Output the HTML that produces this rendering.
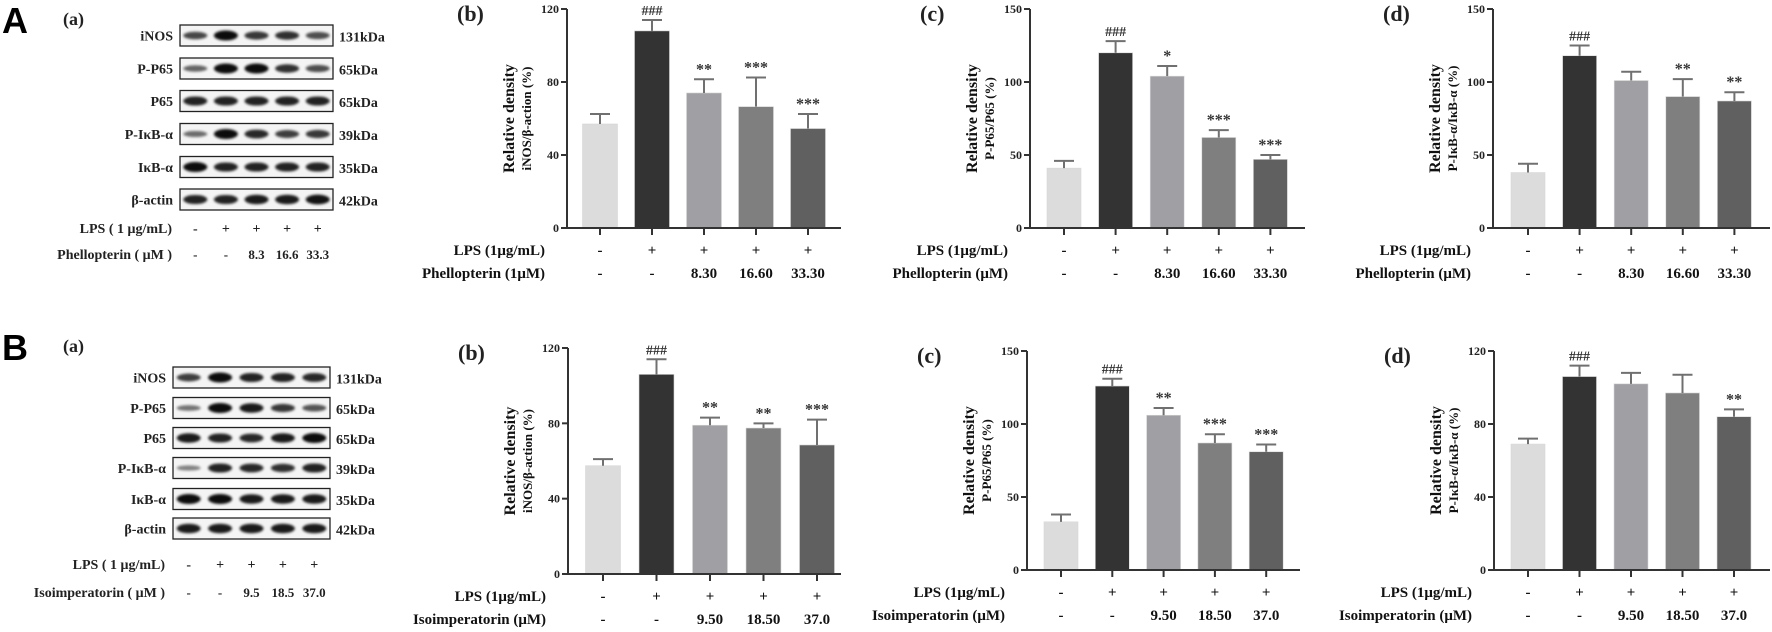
<!DOCTYPE html>
<html><head><meta charset="utf-8">
<style>
html,body{margin:0;padding:0;background:#fff;}
svg{display:block;font-family:"Liberation Serif","Noto Serif CJK SC",serif;}
</style></head>
<body>
<svg id="fig" width="1772" height="632" viewBox="0 0 1772 632" xmlns="http://www.w3.org/2000/svg">
<defs>
<filter id="blur" x="-20%" y="-100%" width="140%" height="300%"><feGaussianBlur stdDeviation="1.3"/></filter>
</defs>
</svg>
<script>
// ---- chart data ----
const groupsA = ["-","-","8.30","16.60","33.30"];
const groupsB = ["-","-","9.50","18.50","37.0"];
const lpsRow = ["-","+","+","+","+"];
const aB_vals = [57, 108, 74, 66.5, 54.5];
const aB_err = [5.5, 6, 7.5, 16, 8];
const aB_sig = ["", "###", "**", "***", "***"];
const aC_vals = [41, 120, 104, 62, 47];
const aC_err = [5, 8, 7, 5, 3];
const aC_sig = ["", "###", "*", "***", "***"];
const aD_vals = [38, 118, 101, 90, 87];
const aD_err = [6, 7, 6, 12, 6];
const aD_sig = ["", "###", "", "**", "**"];
const bB_vals = [57.5, 106, 79, 77.5, 68.5];
const bB_err = [3.5, 8, 4, 2.5, 13.5];
const bB_sig = ["", "###", "**", "**", "***"];
const bC_vals = [33, 126, 106, 87, 81];
const bC_err = [5, 5, 5, 6, 5];
const bC_sig = ["", "###", "**", "***", "***"];
const bD_vals = [69, 106, 102, 97, 84];
const bD_err = [3, 6, 6, 10, 4];
const bD_sig = ["", "###", "", "", "**"];
const ticks120 = [0, 40, 80, 120];
const ticks150 = [0, 50, 100, 150];
// blot band intensities (0..1) per lane
const blotLabels = ["iNOS","P-P65","P65","P-I\u03baB-\u03b1","I\u03baB-\u03b1","\u03b2-actin"];
const blotKDa = ["131kDa","65kDa","65kDa","39kDa","35kDa","42kDa"];
const blotA = [[0.6,1,0.7,0.75,0.55],[0.4,1,1,0.75,0.55],[0.85,0.85,0.85,0.85,0.85],[0.35,1,0.8,0.65,0.7],[1,0.85,0.85,0.85,0.85],[0.85,0.85,0.9,0.9,0.95]];
const blotB = [[0.65,1,0.85,0.85,0.8],[0.3,1,0.9,0.7,0.5],[0.9,0.85,0.8,0.9,1],[0.2,0.85,0.8,0.75,0.85],[1,1,0.9,0.9,0.9],[0.9,0.9,0.9,0.9,0.9]];

const colors = ["#dcdcdc","#333333","#a0a0a4","#7f7f7f","#606060"];
const svg = document.getElementById('fig');
const NS = "http://www.w3.org/2000/svg";
function el(tag, attrs, parent, text){
  const e = document.createElementNS(NS, tag);
  for (const k in attrs) e.setAttribute(k, attrs[k]);
  if (text !== undefined) e.textContent = text;
  (parent || svg).appendChild(e);
  return e;
}

function barChart(o){
  const g = el('g', {});
  
  
  const yScale = v => o.y0 - (v / o.ymax) * (o.y0 - o.y1);
  const xScale = i => o.bx0 + i * o.step;
  const pl = el('text', {x:o.ax-110, y:o.y1+12, 'font-size':22, 'font-weight':'bold', fill:'#222'}, g, o.panel);
  
  
  o.vals.forEach((v,i)=>{
    const cx = xScale(i), top = yScale(v);
    const r = el('rect', {x:cx-o.bw/2, y:top, width:o.bw, height:o.y0-top, fill:colors[i], stroke:'#d8d8d8', 'stroke-width':0.6}, g);
    
    
    const et = yScale(v + o.err[i]);
    const e1 = el('path', {d:`M${cx},${top} V${et} M${cx-10},${et} H${cx+10}`, stroke:'#707070', 'stroke-width':2, fill:'none'}, g);
    
    
    if (o.sig[i]) {
      const s = el('text', {x:cx, y:et-5, 'text-anchor':'middle', 'font-size':o.sig[i][0]=='#'?14:16, 'font-weight':'bold', fill:'#333'}, g, o.sig[i]);
      
      
    }
    el('line', {x1:cx, x2:cx, y1:o.y0, y2:o.y0+7, stroke:'#333', 'stroke-width':2}, g);
    const l1 = el('text', {x:cx, y:o.y0+27, 'text-anchor':'middle', 'font-size':15, 'font-weight':'bold', fill:'#111'}, g, lpsRow[i]);
    
    
    const l2 = el('text', {x:cx, y:o.y0+50, 'text-anchor':'middle', 'font-size':15, 'font-weight':'bold', fill:'#111'}, g, o.groups[i]);
    
    
  });
  const ax = el('path', {d:`M${o.ax},${o.y1} V${o.y0} H${o.xEnd}`, stroke:'#333', 'stroke-width':2, fill:'none'}, g);
  
  
  o.ticks.forEach(t=>{
    const y = yScale(t);
    el('line', {x1:o.ax-6, x2:o.ax, y1:y, y2:y, stroke:'#333', 'stroke-width':2}, g);
    const tl = el('text', {x:o.ax-8, y:y+4, 'text-anchor':'end', 'font-size':12, 'font-weight':'bold', fill:'#222'}, g, t);
    
    
  });
  const cy = (o.y0 + o.y1)/2;
  const t1 = el('text', {x:0, y:0, 'text-anchor':'middle', 'font-size':16, 'font-weight':'bold', fill:'#111', transform:`translate(${o.ax-53},${cy}) rotate(-90)`}, g, 'Relative density');
  
  
  const t2 = el('text', {x:0, y:0, 'text-anchor':'middle', 'font-size':13, 'font-weight':'bold', fill:'#111', transform:`translate(${o.ax-36},${cy}) rotate(-90)`}, g, o.ytitle);
  
  
  const r1 = el('text', {x:o.ax-22, y:o.y0+27, 'text-anchor':'end', 'font-size':15, 'font-weight':'bold', fill:'#111'}, g, 'LPS (1\u03bcg/mL)');
  
  
  const r2 = el('text', {x:o.ax-22, y:o.y0+50, 'text-anchor':'end', 'font-size':15, 'font-weight':'bold', fill:'#111'}, g, o.compound);
  
  
}

barChart({name:'chart-a-b', panel:'(b)', ax:567, y1:9, y0:228, ymax:120, ticks:ticks120, bx0:600, step:52, bw:35, xEnd:841, vals:aB_vals, err:aB_err, sig:aB_sig, groups:groupsA, ytitle:'iNOS/\u03b2-action (%)', compound:'Phellopterin (1\u03bcM)'});
barChart({name:'chart-a-c', panel:'(c)', ax:1030, y1:9, y0:228, ymax:150, ticks:ticks150, bx0:1064, step:51.6, bw:34, xEnd:1305, vals:aC_vals, err:aC_err, sig:aC_sig, groups:groupsA, ytitle:'P-P65/P65 (%)', compound:'Phellopterin (\u03bcM)'});
barChart({name:'chart-a-d', panel:'(d)', ax:1493, y1:9, y0:228, ymax:150, ticks:ticks150, bx0:1528, step:51.6, bw:34, xEnd:1770, vals:aD_vals, err:aD_err, sig:aD_sig, groups:groupsA, ytitle:'P-I\u03baB-\u03b1/I\u03baB-\u03b1 (%)', compound:'Phellopterin (\u03bcM)'});
barChart({name:'chart-b-b', panel:'(b)', ax:568, y1:348, y0:574, ymax:120, ticks:ticks120, bx0:603, step:53.5, bw:35, xEnd:841, vals:bB_vals, err:bB_err, sig:bB_sig, groups:groupsB, ytitle:'iNOS/\u03b2-action (%)', compound:'Isoimperatorin (\u03bcM)'});
barChart({name:'chart-b-c', panel:'(c)', ax:1027, y1:351, y0:570, ymax:150, ticks:ticks150, bx0:1061, step:51.3, bw:34, xEnd:1300, vals:bC_vals, err:bC_err, sig:bC_sig, groups:groupsB, ytitle:'P-P65/P65 (%)', compound:'Isoimperatorin (\u03bcM)'});
barChart({name:'chart-b-d', panel:'(d)', ax:1494, y1:351, y0:570, ymax:120, ticks:ticks120, bx0:1528, step:51.5, bw:34, xEnd:1770, vals:bD_vals, err:bD_err, sig:bD_sig, groups:groupsB, ytitle:'P-I\u03baB-\u03b1/I\u03baB-\u03b1 (%)', compound:'Isoimperatorin (\u03bcM)'});

function blot(o){
  const g = el('g', {});
  
  
  const big = el('text', {x:2, y:o.letterY, 'font-size':36, 'font-weight':'bold', fill:'#000', 'font-family':'Liberation Sans, sans-serif'}, g, o.letter);
  
  
  const pa = el('text', {x:63, y:o.letterY-8, 'font-size':18, 'font-weight':'bold', fill:'#222'}, g, '(a)');
  
  
  const lw = (o.x1 - o.x0) / 5;
  o.rows.forEach((cy,r)=>{
    const box = el('rect', {x:o.x0, y:cy-10.5, width:o.x1-o.x0, height:21, fill:'#f4f4f4', stroke:'#222', 'stroke-width':1.3}, g);
    
    
    o.data[r].forEach((v,i)=>{
      const cx = o.x0 + lw*(i+0.5);
      const b = el('ellipse', {cx:cx, cy:cy, rx:12, ry:2+3*v, fill:'#000', opacity:0.35+0.6*v, filter:'url(#blur)'}, g);
      
      
    });
    const lab = el('text', {x:o.x0-7, y:cy+5, 'text-anchor':'end', 'font-size':14, 'font-weight':'bold', fill:'#222'}, g, blotLabels[r]);
    
    
    const kd = el('text', {x:o.x1+6, y:cy+6, 'font-size':14, 'font-weight':'bold', fill:'#222'}, g, blotKDa[r]);
    
    
  });
  const l1 = el('text', {x:o.x0-8, y:o.lpsY, 'text-anchor':'end', 'font-size':14, 'font-weight':'bold', fill:'#222'}, g, 'LPS ( 1 \u03bcg/mL)');
  
  
  const l2 = el('text', {x:o.x0-8, y:o.cmpY, 'text-anchor':'end', 'font-size':14, 'font-weight':'bold', fill:'#222'}, g, o.compound);
  
  
  for (let i=0;i<5;i++){
    const cx = o.x0 + lw*(i+0.5);
    el('text', {x:cx, y:o.lpsY, 'text-anchor':'middle', 'font-size':14, 'font-weight':'bold', fill:'#222'}, g, lpsRow[i]);
    el('text', {x:cx, y:o.cmpY, 'text-anchor':'middle', 'font-size':13, 'font-weight':'bold', fill:'#222'}, g, o.doses[i]);
  }
}
blot({name:'blot-a', letter:'A', letterY:33, x0:180, x1:333, rows:[35.5,68.5,101,134,167,199.5], data:blotA, lpsY:233, cmpY:259, compound:'Phellopterin ( \u03bcM )', doses:["-","-","8.3","16.6","33.3"]});
blot({name:'blot-b', letter:'B', letterY:360, x0:173, x1:330, rows:[377.5,408,438,468,499,528.5], data:blotB, lpsY:569, cmpY:597, compound:'Isoimperatorin ( \u03bcM )', doses:["-","-","9.5","18.5","37.0"]});
</script>
</body></html>
